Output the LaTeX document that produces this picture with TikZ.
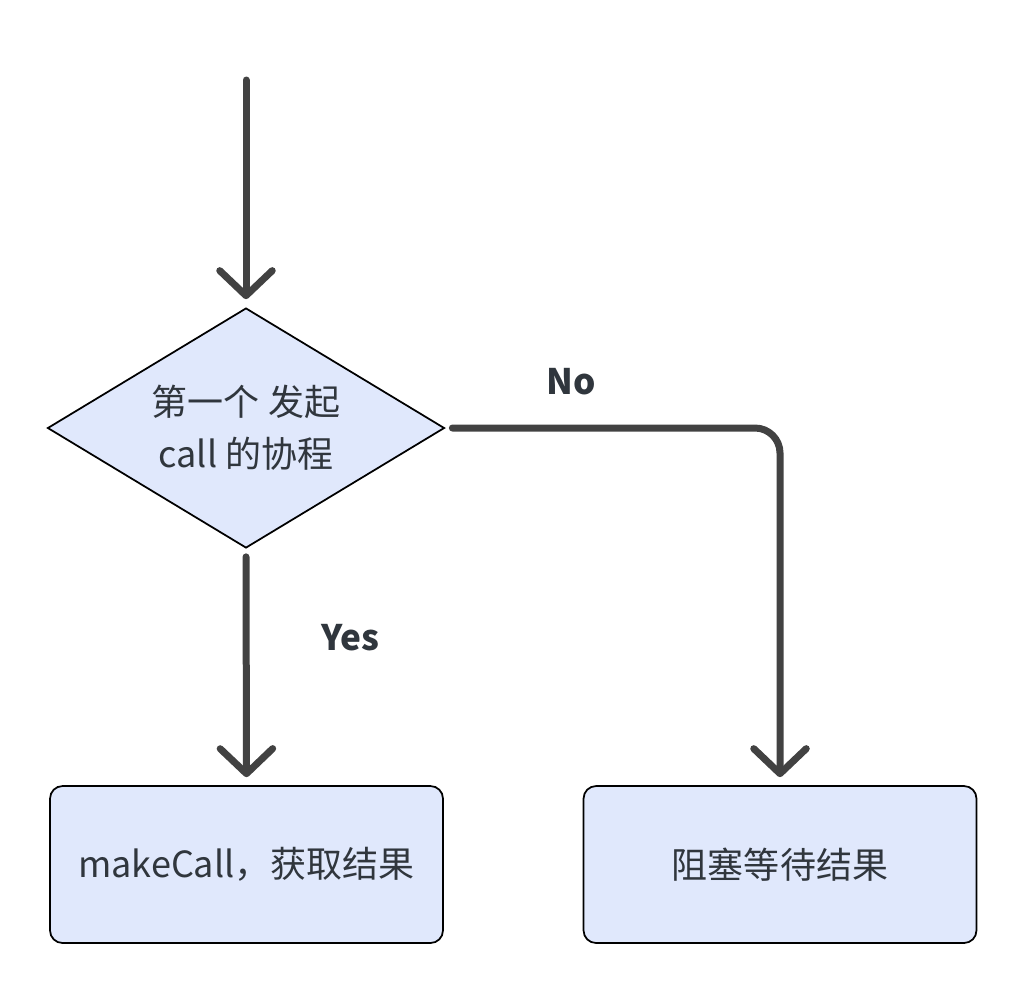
\documentclass[tikz,border=0pt]{standalone}
\usepackage{fontspec}
\setmainfont{Noto Sans CJK SC}
\usetikzlibrary{shapes.geometric,arrows.meta}
\definecolor{boxfill}{HTML}{E0E8FC}
\definecolor{linegray}{HTML}{424242}
\definecolor{txtgray}{HTML}{30363D}
\tikzset{
  flow/.style={draw=linegray,line width=0.14cm,line cap=round,-{Straight Barb[round,length=0.5cm,width=1.05cm]}},
  decide/.style={shape=diamond,aspect=1.65,draw=black,line width=1pt,fill=boxfill,inner sep=0pt,minimum width=7.94cm,minimum height=4.8cm,text=txtgray,font=\fontsize{20.5}{29.6}\selectfont,align=center},
  stepbox/.style={draw=black,line width=1pt,fill=boxfill,rounded corners=0.25cm,minimum width=7.86cm,minimum height=3.14cm,text=txtgray,font=\fontsize{20.5}{29.6}\selectfont},
  answer/.style={text=txtgray,font=\bfseries\fontsize{20}{24}\selectfont}
}
\begin{document}
\begin{tikzpicture}[x=0.02cm,y=-0.02cm]
\useasboundingbox (0,0) rectangle (1026,992);
%\draw[help lines] (0,0) grid[step=100] (1026,992);
\coordinate (start) at (246,80);
\node[decide] (dec) at (246,428) {第一个 发起\\call 的协程};
\node[stepbox] (call) at (246.5,864.5) {makeCall，获取结果};
\node[stepbox] (wait) at (780,864.5) {阻塞等待结果};
\draw[flow,shorten >=0.16cm] (start)--(dec.north);
\draw[flow,shorten <=0.16cm,shorten >=0.16cm] (dec.south)--(call.north);
\draw[flow,rounded corners=0.5cm,shorten <=0.14cm,shorten >=0.16cm] (dec.east) -| (wait.north);
\node[answer] (no) at (571,382) {No};
\node[answer] (yes) at (350,638) {Yes};
\end{tikzpicture}
\end{document}
